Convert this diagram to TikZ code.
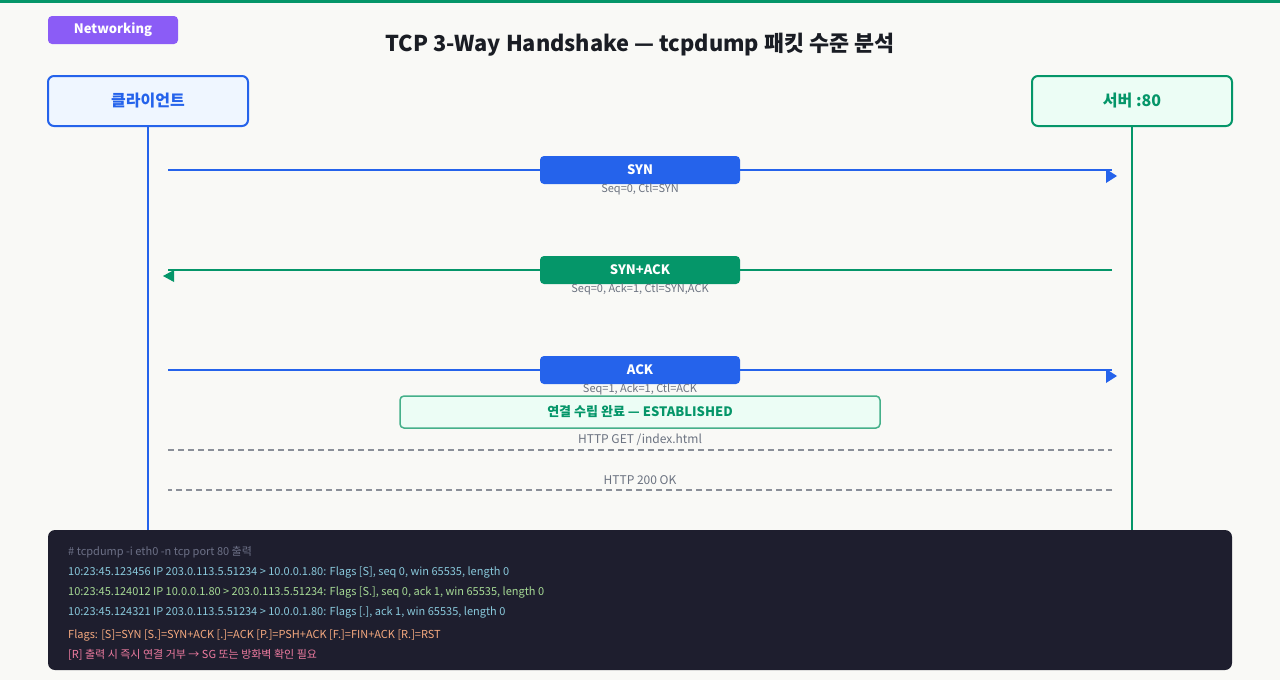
\documentclass[tikz,border=0pt]{standalone}
\usepackage{fontspec}
\setmainfont{Noto Sans CJK KR}
\usetikzlibrary{positioning}
\definecolor{pagebg}{HTML}{F9F9F6}
\definecolor{topbar}{HTML}{059669}
\definecolor{tagpurple}{HTML}{8B5CF6}
\definecolor{titleink}{HTML}{1A1D24}
\definecolor{cblue}{HTML}{2563EB}
\definecolor{cbluefill}{HTML}{EFF6FF}
\definecolor{sgreen}{HTML}{059669}
\definecolor{sgreenfill}{HTML}{ECFDF5}
\definecolor{estline}{HTML}{45B08A}
\definecolor{noteink}{HTML}{6B7280}
\definecolor{dashink}{HTML}{8A8F98}
\definecolor{termbg}{HTML}{1E1E2E}
\definecolor{termgray}{HTML}{6C7086}
\definecolor{termcyan}{HTML}{89C9DC}
\definecolor{termgreen}{HTML}{A6DA95}
\definecolor{termpeach}{HTML}{F5A97F}
\definecolor{termpink}{HTML}{EE7BA0}
\newcommand\pxfont[1]{\fontsize{#1}{#1}\selectfont}
\begin{document}
\begin{tikzpicture}[x=1pt,y=-1pt,
  actor/.style={rounded corners=6pt,line width=2pt,minimum width=200pt,minimum height=50pt,font=\pxfont{16}\bfseries},
  msgbox/.style={rounded corners=4pt,minimum width=200pt,minimum height=28pt,text=white,font=\pxfont{13}\bfseries},
  note/.style={text=noteink,font=\pxfont{11},inner sep=0pt},
  msg/.style={line width=2pt},
  dashline/.style={dashink,line width=1.5pt,dash pattern=on 6pt off 4pt},
  termline/.style={anchor=west,inner sep=0pt,font=\pxfont{11}}]
  \fill[pagebg] (0,0) rectangle (1280,680);
  \useasboundingbox (0,0) rectangle (1280,680);
  \fill[topbar] (0,0) rectangle (1280,3);
  % header
  \node[fill=tagpurple,rounded corners=4pt,minimum width=130pt,minimum height=28pt,text=white,font=\pxfont{13}\bfseries] (tag) at (113,30) {\raisebox{-1pt}{Networking}};
  \node[text=titleink,font=\pxfont{21.8}\bfseries] (title) at (640,45) {TCP 3-Way Handshake — tcpdump 패킷 수준 분석};
  % actors and lifelines
  \node[actor,draw=cblue,fill=cbluefill,text=cblue] (client) at (148,101) {\raisebox{-1pt}{클라이언트}};
  \node[actor,draw=sgreen,fill=sgreenfill,text=sgreen] (server) at (1132,101) {\raisebox{-1pt}{서버 :80}};
  \coordinate (clientend) at (148,530);
  \coordinate (serverend) at (1132,530);
  \draw[cblue,line width=2pt] (client.south) -- (clientend);
  \draw[sgreen,line width=2pt] (server.south) -- (serverend);
  % SYN
  \coordinate (c1) at (168,170);
  \coordinate (s1) at (1112,170);
  \draw[msg,cblue] (c1) -- (s1);
  \fill[cblue] (s1) ++(-6,-1) -- ++(0,14) -- ++(11,-7) -- cycle;
  \node[msgbox,fill=cblue] (syn) at (640,170) {\raisebox{-1pt}{SYN}};
  \node[note] (synnote) at (640,189) {Seq=0, Ctl=SYN};
  % SYN+ACK
  \coordinate (c2) at (168,270);
  \coordinate (s2) at (1112,270);
  \draw[msg,sgreen] (s2) -- (c2);
  \fill[sgreen] (c2) ++(6,0) -- ++(0,12) -- ++(-11,-6) -- cycle;
  \node[msgbox,fill=sgreen] (synack) at (640,270) {\raisebox{-1pt}{SYN+ACK}};
  \node[note] (synacknote) at (640,289) {Seq=0, Ack=1, Ctl=SYN,ACK};
  % ACK
  \coordinate (c3) at (168,370);
  \coordinate (s3) at (1112,370);
  \draw[msg,cblue] (c3) -- (s3);
  \fill[cblue] (s3) ++(-6,-1) -- ++(0,14) -- ++(11,-7) -- cycle;
  \node[msgbox,fill=cblue] (ack) at (640,370) {\raisebox{-1pt}{ACK}};
  \node[note] (acknote) at (640,389) {Seq=1, Ack=1, Ctl=ACK};
  \node[draw=estline,fill=sgreenfill,line width=1.5pt,rounded corners=4pt,minimum width=480pt,minimum height=32pt,text=sgreen,font=\pxfont{13}\bfseries] (est) at (640,412) {\raisebox{-1pt}{연결 수립 완료 — ESTABLISHED}};
  % HTTP
  \coordinate (c4) at (168,450);
  \coordinate (s4) at (1112,450);
  \draw[dashline] (c4) -- (s4);
  \node[note,font=\pxfont{12}] (get) at (640,440) {HTTP GET /index.html};
  \coordinate (c5) at (168,490);
  \coordinate (s5) at (1112,490);
  \draw[dashline] (s5) -- (c5);
  \node[note,font=\pxfont{12}] (ok) at (640,480) {HTTP 200 OK};
  % tcpdump output
  \node[fill=termbg,rounded corners=7pt,minimum width=1184pt,minimum height=140pt] (term) at (640,600) {};
  \node[termline,text=termgray] (cmd) at (68,552) {\# tcpdump -i eth0 -n tcp port 80 출력};
  \node[termline,text=termcyan] (l1) at (68,572) {10:23:45.123456 IP 203.0.113.5.51234 > 10.0.0.1.80: Flags [S], seq 0, win 65535, length 0};
  \node[termline,text=termgreen] (l2) at (68,592) {10:23:45.124012 IP 10.0.0.1.80 > 203.0.113.5.51234: Flags [S.], seq 0, ack 1, win 65535, length 0};
  \node[termline,text=termcyan] (l3) at (68,612) {10:23:45.124321 IP 203.0.113.5.51234 > 10.0.0.1.80: Flags [.], ack 1, win 65535, length 0};
  \node[termline,text=termpeach] (flags) at (68,635) {Flags: [S]=SYN [S.]=SYN+ACK [.]=ACK [P.]=PSH+ACK [F.]=FIN+ACK [R.]=RST};
  \node[termline,text=termpink] (warn) at (68,655) {[R] 출력 시 즉시 연결 거부 → SG 또는 방화벽 확인 필요};
\end{tikzpicture}
\end{document}
